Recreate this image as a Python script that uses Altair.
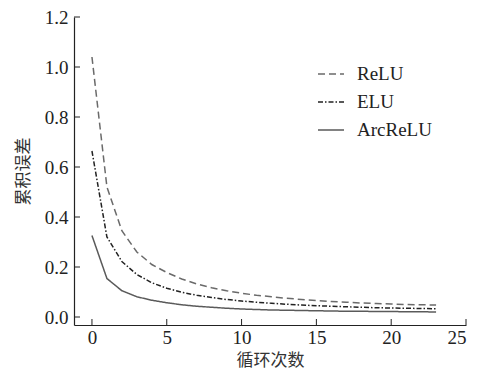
import altair as alt
import pandas as pd

cycles = list(range(24))
relu = [1.04, 0.52, 0.345, 0.26, 0.21, 0.178, 0.152, 0.132, 0.117, 0.105, 0.095,
        0.087, 0.081, 0.075, 0.070, 0.066, 0.062, 0.059, 0.056, 0.054, 0.052,
        0.050, 0.049, 0.048]
elu = [0.664, 0.320, 0.222, 0.170, 0.137, 0.115, 0.099, 0.087, 0.078, 0.070, 0.064,
       0.059, 0.055, 0.051, 0.048, 0.045, 0.043, 0.041, 0.039, 0.037, 0.036,
       0.035, 0.034, 0.033]
arcrelu = [0.326, 0.154, 0.105, 0.081, 0.067, 0.057, 0.049, 0.043, 0.039, 0.035, 0.032,
           0.030, 0.028, 0.027, 0.026, 0.025, 0.024, 0.023, 0.023, 0.022, 0.022,
           0.021, 0.021, 0.020]
series_names = ["ReLU", "ELU", "ArcReLU"]
x_ticks = [0, 5, 10, 15, 20, 25]
y_ticks = [0.0, 0.2, 0.4, 0.6, 0.8, 1.0, 1.2]

rows = []
for name, vals in zip(series_names, [relu, elu, arcrelu]):
    for c, v in zip(cycles, vals):
        rows.append({"cycle": c, "err": v, "series": name})
df = pd.DataFrame(rows)

W, H = 392, 308
xscale = alt.Scale(domain=[-1.2, 25], nice=False, zero=False)
yscale = alt.Scale(domain=[-0.032, 1.2], nice=False, zero=False)
serif = "Liberation Serif"
cjk = "Noto Sans CJK SC"

legend_opts = dict(title=None, orient="none", legendX=243, legendY=43,
                   symbolType="stroke", symbolSize=676, symbolStrokeWidth=1.5,
                   labelOffset=12, rowPadding=4, padding=0,
                   labelFont=serif, labelFontSize=19, labelColor="#222222")

lines = alt.Chart(df).mark_line(strokeWidth=1.5).encode(
    x=alt.X("cycle:Q", scale=xscale,
            axis=alt.Axis(values=x_ticks, title="循环次数", tickSize=0, labelPadding=3,
                          grid=False, titleX=W / 2, titleY=35, titleBaseline="middle",
                          titleAlign="center")),
    y=alt.Y("err:Q", scale=yscale,
            axis=alt.Axis(values=y_ticks, format=".1f", title="累积误差", tickSize=0,
                          labelPadding=6, grid=False, titleAngle=-90, titleX=-51,
                          titleY=H / 2, titleBaseline="middle", titleAlign="center")),
    color=alt.Color("series:N",
                    scale=alt.Scale(domain=series_names, range=["#6a6a6a", "#222222", "#5a5a5a"]),
                    legend=alt.Legend(**legend_opts)),
    strokeDash=alt.StrokeDash("series:N",
                              scale=alt.Scale(domain=series_names,
                                              range=[[7, 4], [5, 2, 1.5, 2], [1, 0]]),
                              legend=alt.Legend(**legend_opts)),
)

xt = pd.DataFrame({"t": x_ticks})
yt = pd.DataFrame({"t": y_ticks})
xtick_marks = alt.Chart(xt).mark_rule(color="#222222", strokeWidth=1).encode(
    x=alt.X("t:Q", scale=xscale), y=alt.value(H), y2=alt.value(H - 6))
ytick_marks = alt.Chart(yt).mark_rule(color="#222222", strokeWidth=1).encode(
    y=alt.Y("t:Q", scale=yscale), x=alt.value(0), x2=alt.value(6))

chart = alt.layer(lines, xtick_marks, ytick_marks).properties(
    width=W, height=H,
    background="white",
    autosize=alt.AutoSizeParams(type="none"),
    padding={"left": 66, "top": 9, "right": 3, "bottom": 46},
).configure_view(stroke=None).configure_axis(
    domainColor="#222222", domainWidth=1.2,
    labelFont=serif, labelFontSize=19, labelColor="#222222",
    titleFont=cjk, titleFontSize=17, titleFontWeight="normal", titleColor="#333333",
)

chart.save("out.html", embed_options={"renderer": "svg", "actions": False})
